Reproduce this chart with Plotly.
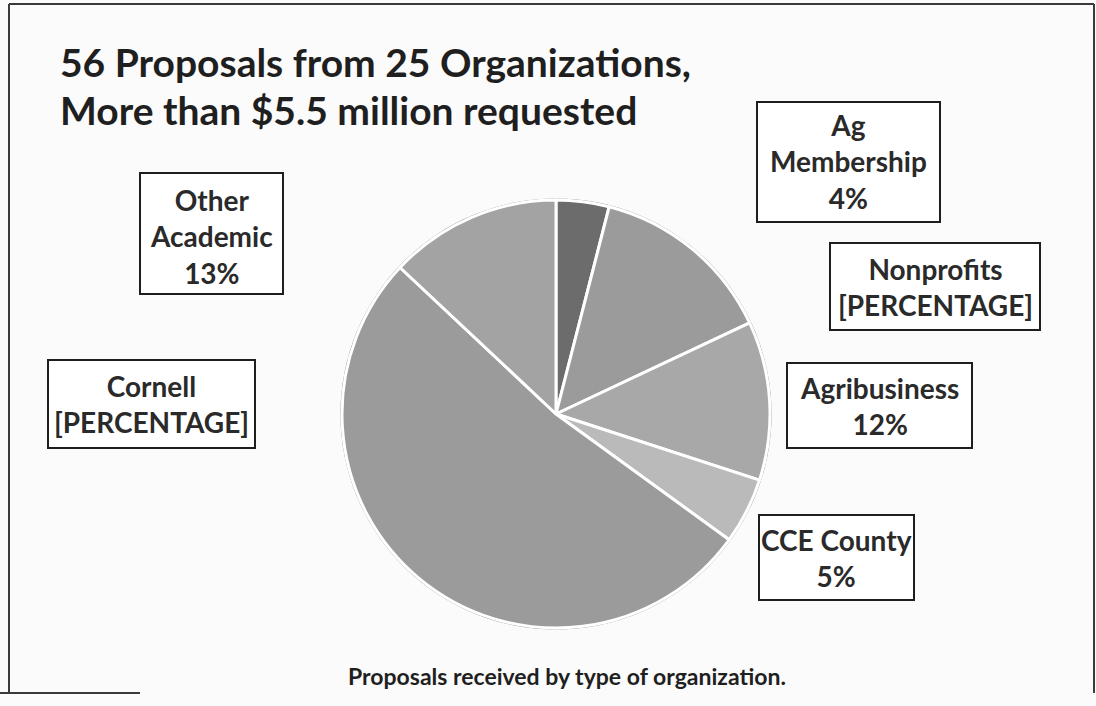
import plotly.graph_objects as go

# ---- data ----
categories = ["Ag Membership", "Nonprofits", "Agribusiness", "CCE County", "Cornell", "Other Academic"]
shares = [4, 14, 12, 5, 52, 13]
label_lines = ["Ag<br>Membership<br>4%", "Nonprofits<br>[PERCENTAGE]", "Agribusiness<br>12%",
               "CCE County<br>5%", "Cornell<br>[PERCENTAGE]", "Other<br>Academic<br>13%"]
title_lines = ["56 Proposals from 25 Organizations,", "More than $5.5 million requested"]
caption_text = "Proposals received by type of organization."

# ---- styling ----
W, H = 1096, 706
slice_colors = ["#6c6c6c", "#9b9b9b", "#a8a8a8", "#bababa", "#9b9b9b", "#a3a3a3"]
FONT = "Lato"
TXT = "#2a2a2a"

def px(x):
    return x / W

def py(y):
    return 1 - y / H

cx, cy, r = 556, 414, 214

fig = go.Figure()
# outer darker rim
fig.add_trace(go.Pie(values=[1], marker=dict(colors=["#8a8a8a"]), textinfo="none",
                     hoverinfo="skip", showlegend=False, sort=False,
                     domain=dict(x=[px(cx - r - 1.5), px(cx + r + 1.5)], y=[py(cy + r + 1.5), py(cy - r - 1.5)])))
fig.add_trace(go.Pie(labels=categories, values=shares, sort=False, direction="clockwise", rotation=0,
                     marker=dict(colors=slice_colors, line=dict(color="white", width=3)),
                     textinfo="none", showlegend=False,
                     domain=dict(x=[px(cx - r), px(cx + r)], y=[py(cy + r), py(cy - r)])))

# label boxes: (x0, y0, x1, y1, text dy) in pixels
boxes = [(757, 102, 940, 222, 0), (830, 243, 1040, 330, 0), (787, 363, 972, 448, 0),
         (759, 515, 914, 600, 0), (48, 360, 255, 448, 0), (140, 173, 283, 294, 3)]
annotations = []
shapes = []
for (x0, y0, x1, y1, dy), txt in zip(boxes, label_lines):
    shapes.append(dict(type="rect", xref="paper", yref="paper", x0=px(x0), x1=px(x1), y0=py(y1), y1=py(y0),
                       line=dict(color="#1e1e1e", width=2), fillcolor="rgba(255,255,255,0.9)", layer="above"))
    annotations.append(dict(xref="paper", yref="paper", x=px((x0 + x1) / 2), y=py((y0 + y1) / 2 + dy),
                            xanchor="center", yanchor="middle", text=txt, showarrow=False, align="center",
                            font=dict(family=FONT, size=28, color=TXT, weight="bold")))

for line, ty in zip(title_lines, [62, 110]):
    annotations.append(dict(xref="paper", yref="paper", x=px(58), y=py(ty), xanchor="left", yanchor="middle",
                            text=line, showarrow=False, align="left",
                            font=dict(family=FONT, size=39, color="#1f1f1f", weight="bold")))
annotations.append(dict(xref="paper", yref="paper", x=px(567), y=py(676), xanchor="center", yanchor="middle",
                        text=caption_text, showarrow=False,
                        font=dict(family=FONT, size=23, color="#1f1f1f", weight="bold")))

# outer frame
frame = [(9, 4, 9, 693), (9, 4, 1094, 4), (1094, 4, 1094, 693), (0, 693, 140, 693)]
for x0, y0, x1, y1 in frame:
    shapes.append(dict(type="line", xref="paper", yref="paper", x0=px(x0), x1=px(x1), y0=py(y0), y1=py(y1),
                       line=dict(color="#3a3a3a", width=2)))

fig.update_layout(width=W, height=H, margin=dict(l=0, r=0, t=0, b=0),
                  paper_bgcolor="#fbfbfb", plot_bgcolor="#fbfbfb",
                  annotations=annotations, shapes=shapes, showlegend=False)
fig.write_html("out.html", config={"displayModeBar": False},
               post_script="document.body.style.margin='0';document.body.style.overflow='hidden';")
